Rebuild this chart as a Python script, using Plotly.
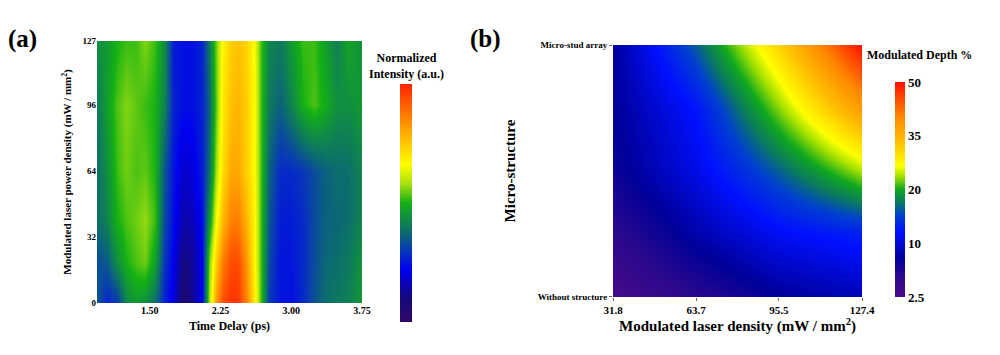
import numpy as np
import plotly.graph_objects as go

# ---------------- Panel (a) data ----------------
time_delay = [0.94, 1.05, 1.15, 1.25, 1.35, 1.45, 1.55, 1.65, 1.75, 1.85, 1.95, 2.05,
              2.13, 2.20, 2.28, 2.36, 2.44, 2.52, 2.60, 2.68, 2.76, 2.88, 3.00, 3.12,
              3.24, 3.36, 3.48, 3.60, 3.75]
power_density = [0, 20, 40, 64, 96, 127]
int_p0 = [0.35, 0.27, 0.30, 0.42, 0.46, 0.44, 0.38, 0.27, 0.20, 0.06, 0.12, 0.22,
          0.58, 0.82, 0.94, 0.98, 0.97, 0.86, 0.70, 0.52, 0.30, 0.25, 0.24, 0.28,
          0.34, 0.38, 0.40, 0.41, 0.46]
int_p20 = [0.33, 0.35, 0.44, 0.50, 0.53, 0.55, 0.47, 0.30, 0.22, 0.10, 0.13, 0.22,
           0.55, 0.74, 0.87, 0.94, 0.94, 0.83, 0.68, 0.52, 0.32, 0.25, 0.25, 0.28,
           0.33, 0.37, 0.38, 0.40, 0.45]
int_p40 = [0.38, 0.42, 0.50, 0.53, 0.55, 0.57, 0.52, 0.33, 0.24, 0.15, 0.16, 0.24,
           0.45, 0.65, 0.78, 0.86, 0.86, 0.78, 0.68, 0.52, 0.34, 0.26, 0.26, 0.28,
           0.33, 0.36, 0.37, 0.38, 0.42]
int_p64 = [0.38, 0.44, 0.52, 0.55, 0.53, 0.54, 0.50, 0.35, 0.25, 0.18, 0.20, 0.26,
           0.38, 0.58, 0.72, 0.80, 0.80, 0.74, 0.67, 0.52, 0.36, 0.28, 0.28, 0.30,
           0.33, 0.36, 0.38, 0.38, 0.42]
int_p96 = [0.40, 0.47, 0.53, 0.56, 0.54, 0.52, 0.50, 0.42, 0.27, 0.24, 0.24, 0.27,
           0.36, 0.54, 0.70, 0.76, 0.78, 0.74, 0.67, 0.52, 0.40, 0.36, 0.42, 0.50,
           0.53, 0.49, 0.44, 0.44, 0.46]
int_p127 = [0.44, 0.46, 0.50, 0.52, 0.52, 0.56, 0.52, 0.44, 0.26, 0.24, 0.24, 0.27,
            0.40, 0.55, 0.68, 0.74, 0.76, 0.73, 0.66, 0.52, 0.42, 0.40, 0.46, 0.52,
            0.52, 0.47, 0.41, 0.48, 0.44]
a_xticks = [1.50, 2.25, 3.00, 3.75]
a_xticktext = ["1.50", "2.25", "3.00", "3.75"]
a_yticks = [0, 32, 64, 96, 127]

# ---------------- Panel (b) data ----------------
laser_density = [31.8, 63.7, 95.5, 127.4]
structure_pos = [0, 0.25, 0.5, 0.75, 1]
structure_labels = ["Without structure", "Micro-stud array"]
depth_r0 = [3.0, 5.5, 7.8, 8.9]
depth_r1 = [5.3, 8.5, 11.5, 13.0]
depth_r2 = [7.2, 10.8, 16.5, 24.0]
depth_r3 = [7.8, 12.3, 23.0, 38.0]
depth_r4 = [8.0, 16.5, 31.0, 50.0]
depth_ticks = [2.5, 10, 20, 35, 50]
depth_ticktext = ["2.5", "10", "20", "35", "50"]

# colorbar in (b) is evenly spaced between the tick values
def to_pos(v):
    return np.interp(v, depth_ticks, list(range(len(depth_ticks))))

z_a = [int_p0, int_p20, int_p40, int_p64, int_p96, int_p127]
z_b = [list(to_pos(r)) for r in [depth_r0, depth_r1, depth_r2, depth_r3, depth_r4]]

cs_a = [[0.0, '#300868'], [0.1, '#14087c'], [0.22, '#0000f0'], [0.3, '#0838b8'],
        [0.38, '#0c6e6c'], [0.5, '#14b014'], [0.58, '#a8e010'], [0.66, '#ffff00'],
        [0.8, '#ffa800'], [1.0, '#ff2400']]
cs_b = [[0.0, '#4b0b8b'], [0.1, '#2a088c'], [0.18, '#00009a'], [0.3, '#0010ff'],
        [0.38, '#0040d0'], [0.44, '#0a7a60'], [0.5, '#10a820'], [0.56, '#a0e000'],
        [0.61, '#ffff00'], [0.72, '#ffc000'], [0.84, '#ff8800'], [1.0, '#ff1000']]

FONT = "Liberation Serif"

fig = go.Figure()
fig.add_trace(go.Heatmap(
    x=time_delay, y=power_density, z=z_a, zsmooth='best', colorscale=cs_a,
    zmin=0, zmax=1, xaxis='x', yaxis='y',
    colorbar=dict(x=0.400, xanchor='left', y=0.428, yanchor='middle', len=0.67,
                  thickness=12, outlinewidth=0, showticklabels=False, ticks='',
                  xpad=0, ypad=0)))
fig.add_trace(go.Heatmap(
    x=laser_density, y=structure_pos, z=z_b, zsmooth='best', colorscale=cs_b,
    zmin=0, zmax=4, xaxis='x2', yaxis='y2',
    colorbar=dict(x=0.895, xanchor='left', y=0.466, yanchor='middle', len=0.606,
                  thickness=10, outlinewidth=0, tickvals=[0, 1, 2, 3, 4],
                  ticktext=depth_ticktext, ticks='', xpad=0, ypad=0,
                  tickfont=dict(family=FONT, size=13, color='black', weight='bold'))))

tickf_small = dict(family=FONT, size=9, color='black', weight='bold')
fig.update_layout(
    width=1000, height=355, margin=dict(l=0, r=0, t=0, b=0, autoexpand=False),
    paper_bgcolor='white', plot_bgcolor='white', showlegend=False,
    xaxis=dict(domain=[0.097, 0.362], range=[0.94, 3.75], tickvals=a_xticks,
               ticktext=a_xticktext, tickfont=dict(family=FONT, size=10, color='black', weight='bold'),
               showgrid=False, zeroline=False, ticks='', anchor='y', automargin=False,
               title=dict(text="Time Delay (ps)", standoff=6,
                          font=dict(family=FONT, size=12, color='black', weight='bold'))),
    yaxis=dict(domain=[0.1465, 0.8845], range=[0, 127], tickvals=a_yticks,
               tickfont=tickf_small, showgrid=False, zeroline=False, ticks='', anchor='x',
               automargin=False,
               title=dict(text="Modulated laser power density (mW / mm<sup>2</sup>)", standoff=8,
                          font=dict(family=FONT, size=11, color='black', weight='bold'))),
    xaxis2=dict(domain=[0.613, 0.862], range=[31.8, 127.4], tickvals=laser_density,
                ticktext=["31.8", "63.7", "95.5", "127.4"],
                tickfont=dict(family=FONT, size=11, color='black', weight='bold'),
                showgrid=False, zeroline=False, ticks='outside', ticklen=3, tickcolor='#666',
                anchor='y2', automargin=False,
                title=dict(text="Modulated laser density (mW / mm<sup>2</sup>)", standoff=4,
                           font=dict(family=FONT, size=15, color='black', weight='bold'))),
    yaxis2=dict(domain=[0.1634, 0.8732], range=[0, 1], tickvals=[0, 1],
                ticktext=structure_labels, tickfont=tickf_small,
                showgrid=False, zeroline=False, ticks='outside', ticklen=3, tickcolor='#666',
                anchor='x2', automargin=False,
                title=dict(text="Micro-structure", standoff=18,
                           font=dict(family=FONT, size=15, color='black', weight='bold'))),
)

ann_font = dict(family=FONT, color='black', weight='bold')
fig.add_annotation(text="(a)", x=0.006, y=0.89, xref='paper', yref='paper',
                   xanchor='left', yanchor='middle', showarrow=False,
                   font=dict(size=25, **ann_font))
fig.add_annotation(text="(b)", x=0.468, y=0.89, xref='paper', yref='paper',
                   xanchor='left', yanchor='middle', showarrow=False,
                   font=dict(size=25, **ann_font))
fig.add_annotation(text="Normalized<br>Intensity (a.u.)", x=0.406, y=0.815, xref='paper',
                   yref='paper', xanchor='center', yanchor='middle', showarrow=False,
                   font=dict(size=12, **ann_font))
fig.add_annotation(text="Modulated Depth %", x=0.865, y=0.845, xref='paper',
                   yref='paper', xanchor='left', yanchor='middle', showarrow=False,
                   font=dict(size=12, **ann_font))

fig.write_html("out.html", config={'displayModeBar': False},
               post_script="document.body.style.margin='0';")
